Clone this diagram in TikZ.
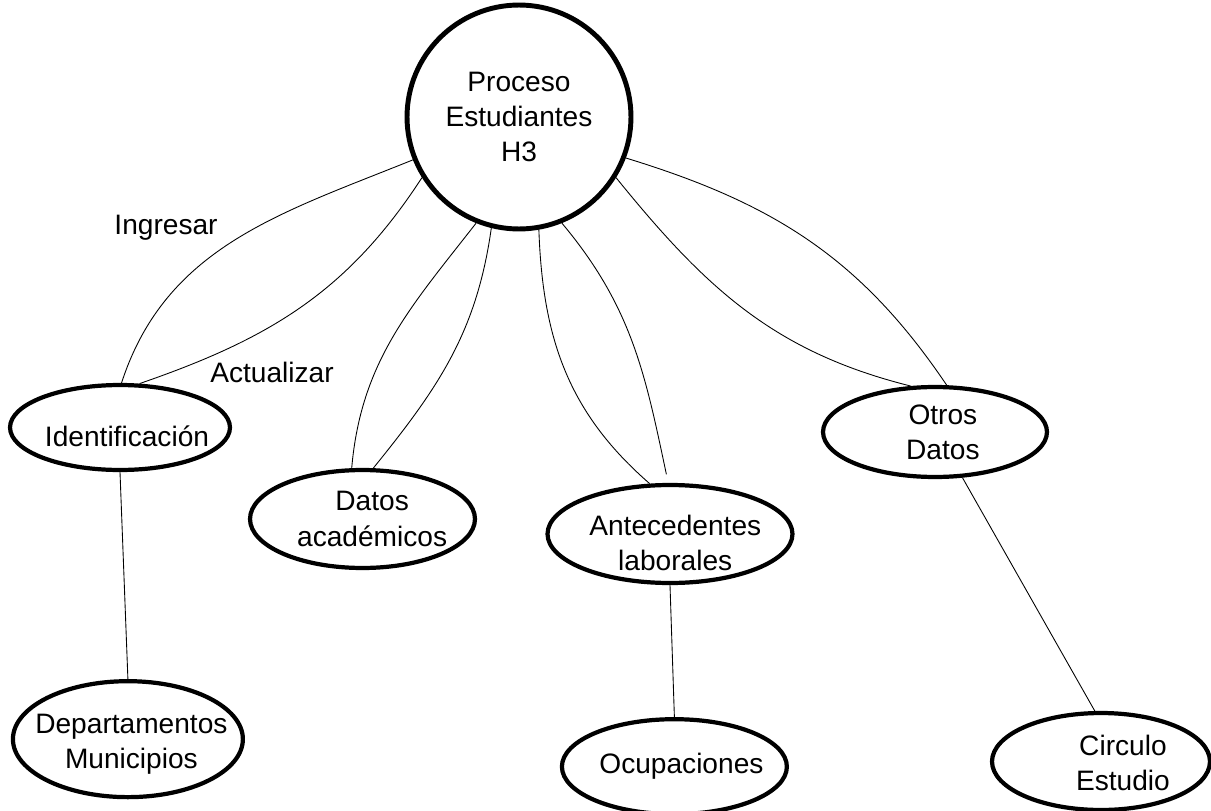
\documentclass[tikz,border=0pt]{standalone}
\usepackage{fontspec}
\setmainfont{Liberation Sans}
\usetikzlibrary{shapes.geometric,positioning}

\begin{document}
\begin{tikzpicture}[x=0.02cm,y=-0.02cm,font=\fontsize{16}{20}\selectfont,
  procnode/.style={draw,circle,line width=2.8pt,minimum size=4.48cm,inner sep=0pt,align=center},
  ent/.style={draw,ellipse,line width=2.4pt,inner sep=0pt},
  txt/.style={align=center,inner sep=0pt},
  link/.style={line width=0.5pt}]

  \useasboundingbox (0,0) rectangle (1211,811);

  \node[procnode] (proc) at (519,117) {Proceso\\Estudiantes\\H3};

  \node[ent,minimum width=4.4cm,minimum height=1.7cm,
    label={[txt,xshift=4pt,yshift=-5pt]center:Identificación}] (ident) at (120,427.5) {};
  \node[ent,minimum width=4.5cm,minimum height=1.96cm,
    label={[txt,xshift=5.5pt]center:Datos\\académicos}] (acad) at (362.5,519) {};
  \node[ent,minimum width=4.9cm,minimum height=1.96cm,
    label={[txt,xshift=3pt,yshift=-5pt]center:Antecedentes\\laborales}] (ante) at (670,534) {};
  \node[ent,minimum width=4.48cm,minimum height=1.8cm,
    label={[txt,xshift=4.5pt]center:Otros\\Datos}] (otros) at (935,432) {};

  \node[ent,minimum width=4.6cm,minimum height=2.32cm,below=4.14cm of ident,xshift=4.5pt,
    label={[txt,xshift=2pt,yshift=-3pt]center:Departamentos\\Municipios}] (depto) {};
  \node[ent,minimum width=4.5cm,minimum height=1.9cm,below=2.64cm of ante,xshift=2.5pt,
    label={[txt,xshift=4pt]center:Ocupaciones}] (ocup) {};
  \node[ent,minimum width=4.36cm,minimum height=1.94cm,
    label={[txt,xshift=12.5pt,yshift=-1pt]center:Circulo\\Estudio}] (circ) at (1101,761.5) {};

  % labels of the two links to Identificacion
  \node (ingr) at (166,228) {Ingresar};
  \node (actu) at (272,372) {Actualizar};

  % links from the process
  \draw[link] (proc.202) to[out=202,in=72] (ident.88)
   (proc.212) to[out=237,in=19] (ident.66)
   (proc.248) to[out=232,in=85] (acad.102)
   (proc.256) to[out=262,in=51] (acad.78);
  \draw[link,shorten >=5pt] (proc.280) to[out=272,in=139] (ante.112)
   (proc.292) to[out=310,in=102] (ante.92);
  \draw[link] (proc.339) to[out=343,in=124] (otros.76)
   (proc.328) to[out=309,in=166] (otros.118);

  % lower level
  \draw[link] (ident.south) -- (depto.north)
   (ante.south) -- (ocup.north)
   (otros.301) -- (circ.97);

\end{tikzpicture}
\end{document}
